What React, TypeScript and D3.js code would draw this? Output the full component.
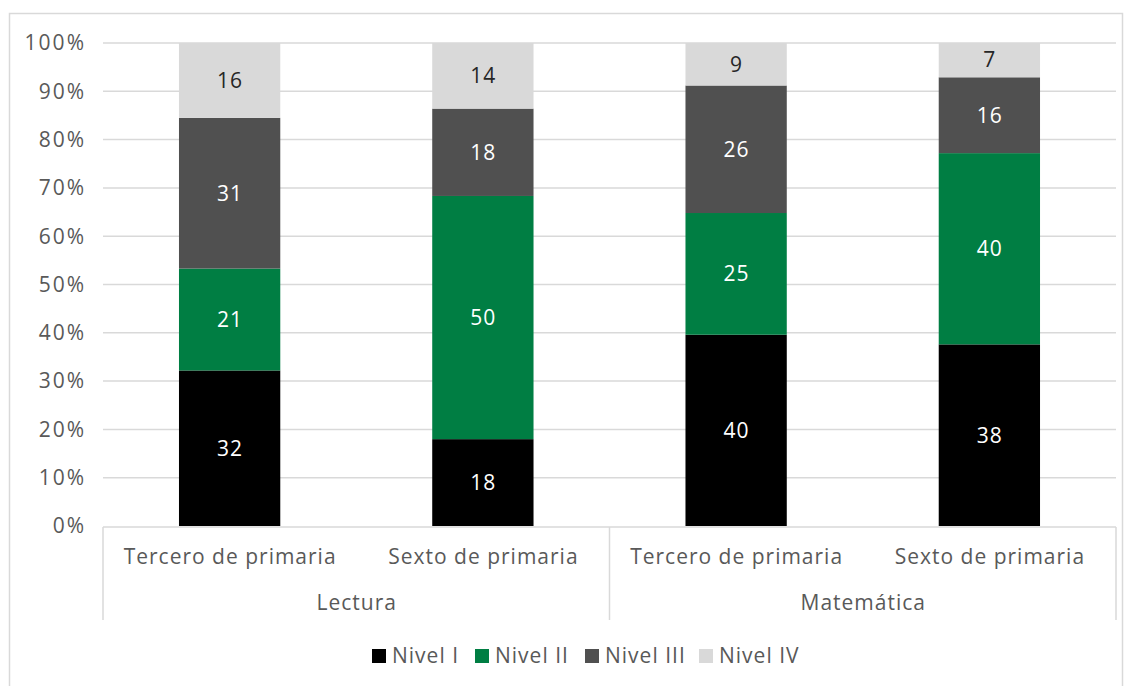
import React from "react";
import * as d3 from "d3";

const groups = ["Lectura", "Matemática"];
const grades = ["Tercero de primaria", "Sexto de primaria"];
const levels = ["Nivel I", "Nivel II", "Nivel III", "Nivel IV"];
// percentages per category (Lectura-Tercero, Lectura-Sexto, Matemática-Tercero, Matemática-Sexto)
const nivelI = [32.2, 18.0, 39.6, 37.6];
const nivelII = [21.1, 50.4, 25.2, 39.6];
const nivelIII = [31.2, 18.1, 26.4, 15.7];
const nivelIV = [15.5, 13.6, 8.8, 7.1];
const colors = ["#000000", "#007e43", "#505050", "#d9d9d9"];
const labelColors = ["#ffffff", "#ffffff", "#ffffff", "#262626"];
const yTicks = [0, 0.1, 0.2, 0.3, 0.4, 0.5, 0.6, 0.7, 0.8, 0.9, 1];

const W = 1132;
const H = 686;
const FONT = "'Open Sans', Lato, sans-serif";

export default function App() {
  const cats = groups.flatMap((g) => grades.map((c) => `${g}|${c}`));
  const values = [nivelI, nivelII, nivelIII, nivelIV];
  const rows = cats.map((k, i) => {
    const r: any = { key: k };
    levels.forEach((l, li) => (r[l] = values[li][i]));
    return r;
  });
  const stack = d3.stack<any>().keys(levels).offset(d3.stackOffsetExpand);
  const series = stack(rows);

  const left = 103;
  const right = 1116;
  const top = 43;
  const bottom = 526;
  const x = d3.scaleBand().domain(cats).range([left, right]).paddingInner(0.6).paddingOuter(0.3);
  const xb = d3.scaleBand().domain(cats).range([left, right]);
  const y = d3.scaleLinear().domain([0, 1]).range([bottom, top]);
  const fmt = d3.format(".0%");
  const axisBottom = 620;
  const legendX = [372, 475, 585, 699];
  const txt = "#595959";
  const FS = 21;
  const LS = 1;

  return (
    <svg width={W} height={H} style={{ position: "absolute", left: 0, top: 0 }} fontFamily={FONT}>
      <rect x={0} y={0} width={W} height={H} fill="#fff" />
      <rect x={9.5} y={13.5} width={1113} height={700} fill="none" stroke="#d9d9d9" strokeWidth={1.5} />
      {yTicks.map((t) => (
        <g key={t}>
          {t > 0 && (
            <line x1={left} x2={right} y1={y(t)} y2={y(t)} stroke="#d9d9d9" strokeWidth={1.5} />
          )}
          <text x={86} y={y(t)} dy="0.35em" textAnchor="end" fontSize={FS} letterSpacing={2} fill={txt}>
            {fmt(t)}
          </text>
        </g>
      ))}
      {series.map((s, si) =>
        s.map((d, i) => {
          const k = cats[i];
          const y0 = y(d[0]);
          const y1 = y(d[1]);
          const v = Math.round(values[si][i]);
          return (
            <g key={`${si}-${i}`}>
              <rect x={x(k)} y={y1} width={x.bandwidth()} height={y0 - y1} fill={colors[si]} />
              <text
                x={(x(k) as number) + x.bandwidth() / 2 + LS / 2}
                y={(y0 + y1) / 2}
                dy="0.35em"
                textAnchor="middle"
                fontSize={FS}
                letterSpacing={LS}
                fill={labelColors[si]}
              >
                {v}
              </text>
            </g>
          );
        })
      )}
      <line x1={left} x2={right} y1={bottom + 1} y2={bottom + 1} stroke="#d9d9d9" strokeWidth={1.5} />
      {[left, (left + right) / 2, right].map((xx, i) => (
        <line key={i} x1={xx} x2={xx} y1={bottom + 1} y2={axisBottom} stroke="#d9d9d9" strokeWidth={1.5} />
      ))}
      {cats.map((k) => (
        <text
          key={k}
          x={(xb(k) as number) + xb.bandwidth() / 2 + LS / 2}
          y={557}
          dy="0.35em"
          textAnchor="middle"
          fontSize={FS}
          letterSpacing={LS}
          fill={txt}
        >
          {k.split("|")[1]}
        </text>
      ))}
      {groups.map((g, gi) => (
        <text
          key={g}
          x={left + ((right - left) / 2) * (gi + 0.5) + LS / 2}
          y={603}
          dy="0.35em"
          textAnchor="middle"
          fontSize={FS}
          letterSpacing={LS}
          fill={txt}
        >
          {g}
        </text>
      ))}
      {levels.map((l, i) => (
        <g key={l} transform={`translate(${legendX[i]},656)`}>
          <rect x={0} y={-7} width={14} height={14} fill={colors[i]} />
          <text x={20} y={0} dy="0.35em" fontSize={FS} letterSpacing={LS} fill={txt}>
            {l}
          </text>
        </g>
      ))}
    </svg>
  );
}
